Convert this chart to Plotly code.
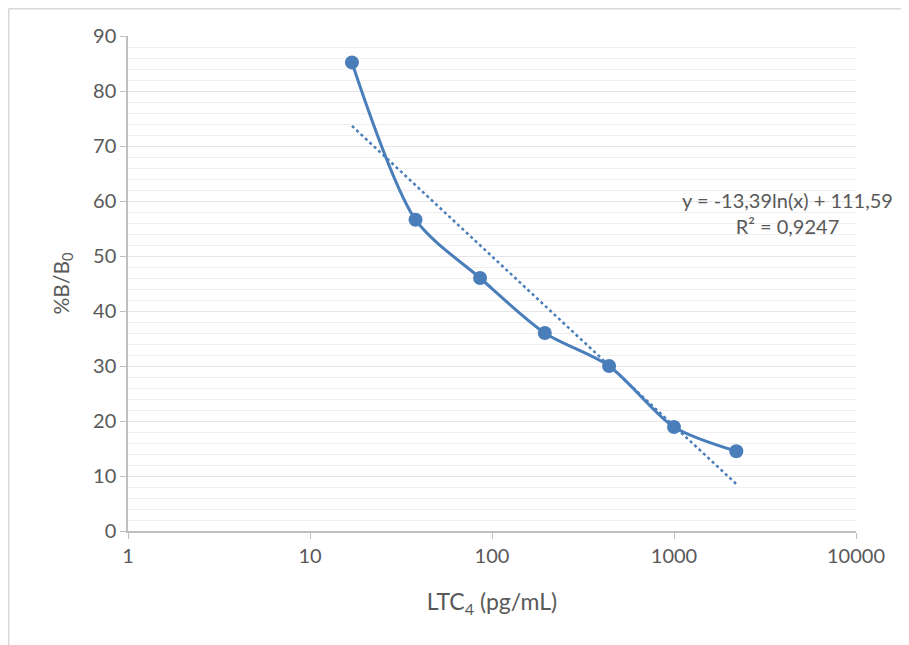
import math
import plotly.graph_objects as go

# Data
conc = [17, 38, 86, 195, 440, 1000, 2200]
pct_b_b0 = [85.2, 56.6, 46.0, 36.0, 30.0, 18.9, 14.5]

# Logarithmic trendline shown in the chart: y = a*ln(x) + b
trend_a = -13.39
trend_b = 111.59
trend_label = "y = -13,39ln(x) + 111,59<br>R² = 0,9247"

x_ticks = [1, 10, 100, 1000, 10000]
x_tick_labels = ["1", "10", "100", "1000", "10000"]

trend_x = [min(conc), max(conc)]
trend_y = [trend_a * math.log(v) + trend_b for v in trend_x]

BLUE = "#4a7ebb"
FONT = "Lato"
TXT = "#595959"

# page has an 8px body margin; figure coords = screenshot coords - 8
W, H = 901, 637
L, R, T, B = 120, 53, 28, 114
pw = W - L - R
ph = H - T - B

fig = go.Figure()
fig.add_trace(go.Scatter(
    x=trend_x, y=trend_y, mode="lines",
    line=dict(color=BLUE, width=2.5, dash="dot"),
    hoverinfo="skip", showlegend=False,
))
fig.add_trace(go.Scatter(
    x=conc, y=pct_b_b0, mode="lines+markers",
    line=dict(color=BLUE, width=3, shape="spline", smoothing=0.8),
    marker=dict(color=BLUE, size=14),
    showlegend=False,
))

fig.update_layout(
    width=W, height=H,
    margin=dict(l=L, r=R, t=T, b=B),
    paper_bgcolor="white", plot_bgcolor="white",
    font=dict(family=FONT, size=20, color=TXT),
    xaxis=dict(
        type="log", range=[0, 4],
        tickvals=x_ticks, ticktext=x_tick_labels,
        showgrid=False, zeroline=False,
        showline=True, linecolor="#bfbfbf", linewidth=1.5,
        ticks="outside", ticklen=6, tickcolor="#bfbfbf",
        title=dict(text="LTC<sub>4</sub> (pg/mL)", font=dict(size=23, color=TXT), standoff=28),
    ),
    yaxis=dict(
        range=[0, 90], dtick=10,
        showgrid=True, gridcolor="#e6e6e6", gridwidth=1,
        minor=dict(dtick=2, showgrid=True, gridcolor="#efefef", gridwidth=1),
        zeroline=False,
        showline=True, linecolor="#bfbfbf", linewidth=1.5,
        ticks="outside", ticklen=6, tickcolor="#bfbfbf",
        title=dict(text="%B/B<sub>0</sub>", font=dict(size=21, color=TXT), standoff=18),
    ),
    annotations=[dict(
        x=(787 - 8 - L) / pw, y=(H - B - (213 - 8)) / ph,
        xref="paper", yref="paper", xanchor="center", yanchor="middle",
        text=trend_label,
        showarrow=False, align="center", font=dict(size=20, color=TXT),
    )],
)

# frame: top and left border of the chart area
left_x = (0.5 - L) / pw
top_y = (ph + T - 0.5) / ph
fig.layout.shapes = [
    dict(type="line", xref="paper", yref="paper", x0=left_x, x1=(W - L) / pw, y0=top_y, y1=top_y,
         line=dict(color="#d9d9d9", width=2)),
    dict(type="line", xref="paper", yref="paper", x0=left_x, x1=left_x, y0=top_y, y1=-B / ph,
         line=dict(color="#d9d9d9", width=2)),
]

fig.write_html("out.html")
